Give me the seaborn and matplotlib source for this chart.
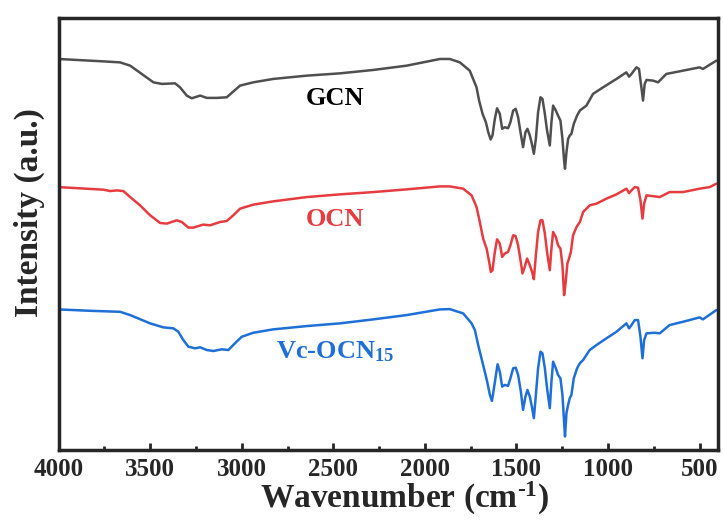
import numpy as np
import pandas as pd
import seaborn as sns
import matplotlib
matplotlib.use("Agg")
import matplotlib.pyplot as plt
from matplotlib.ticker import MultipleLocator

# wavenumber (cm-1) and intensity (a.u.)
gcn_wn = [4000, 3755, 3664, 3609, 3482, 3436, 3364, 3337, 3300, 3273, 3227, 3191, 3136, 3082,
          3009, 2937, 2828, 2645, 2464, 2282, 2100, 1918, 1864, 1809, 1755, 1718, 1704, 1685,
          1667, 1654, 1641, 1631, 1618, 1606, 1591, 1578, 1564, 1546, 1533, 1518, 1504, 1491,
          1478, 1464, 1451, 1440, 1427, 1416, 1405, 1394, 1382, 1369, 1358, 1345, 1333, 1318,
          1309, 1300, 1285, 1273, 1260, 1249, 1240, 1235, 1227, 1218, 1209, 1200, 1187, 1169,
          1154, 1118, 1082, 1027, 954, 900, 885, 872, 845, 831, 818, 809, 800, 790, 754, 727,
          682, 591, 500, 482, 409]
gcn_int = [391.7, 389.3, 388.3, 385, 368.3, 366.7, 367.3, 363.3, 355, 352.3, 355, 352.7, 352.7, 353.3,
           365, 368.3, 371.7, 375, 377.3, 380.7, 385, 391.7, 391.7, 388.3, 380, 363.3, 350, 336.7,
           328.3, 318.3, 311, 315, 331.7, 342.3, 336.7, 321.7, 323.3, 322.3, 328.3, 340, 341.7, 333.3,
           318.3, 303.3, 318.3, 321.7, 315, 306.7, 296.7, 311.7, 338.3, 353.3, 351.7, 336.7, 320, 305,
           328.3, 345, 340, 335, 330, 311.7, 290, 281.7, 298.3, 311.7, 315, 316.7, 326.7, 335,
           340, 345, 356.7, 363.3, 371.7, 378.3, 374, 376.7, 383.3, 381.7, 363.3, 350, 366.7, 370.7, 370, 368.3,
           376.7, 380, 383.3, 381.7, 390]

ocn_wn = [4000, 3755, 3718, 3682, 3646, 3609, 3555, 3500, 3445, 3409, 3355, 3327, 3291, 3264,
          3210, 3173, 3118, 3082, 3046, 3009, 2937, 2828, 2645, 2464, 2282, 2100, 1918, 1864,
          1791, 1745, 1718, 1700, 1682, 1663, 1649, 1640, 1631, 1618, 1606, 1591, 1578, 1564,
          1546, 1533, 1518, 1505, 1491, 1478, 1467, 1455, 1442, 1427, 1415, 1405, 1394, 1382,
          1369, 1358, 1345, 1333, 1318, 1309, 1300, 1285, 1273, 1260, 1249, 1240, 1231, 1222,
          1213, 1203, 1191, 1172, 1154, 1136, 1100, 1063, 1009, 954, 900, 885, 872, 854, 836,
          823, 812, 803, 790, 745, 718, 664, 591, 500, 445, 409]
ocn_int = [263.3, 260.7, 259.3, 260, 259.3, 253.3, 245, 235, 227.3, 226.7, 230, 228.3, 222.7, 222.7,
           225.7, 225, 228.3, 229.3, 235, 241.7, 245.7, 249, 253.3, 256, 258.3, 261, 264, 264,
           261.7, 255, 243.3, 228.3, 211.7, 201.7, 188.3, 178.3, 180, 198.3, 211, 206.7, 193.3, 196.7,
           198.3, 205, 215, 214.3, 205, 190, 176.7, 183.3, 191.7, 185, 178.3, 171, 195, 218.3,
           230, 230, 216.7, 198.3, 180, 201.7, 218.3, 213.3, 205, 201.7, 185, 155, 168.3, 186.7,
           191.7, 198.3, 215, 223.3, 228.3, 238.3, 245, 246.7, 251.7, 256, 261.7, 257.3, 260, 263.3, 262.7,
           250, 231.7, 246.7, 255, 254, 253.3, 258.3, 258.3, 261.7, 263.3, 266.7]

vc_wn = [4000, 3828, 3664, 3609, 3500, 3428, 3373, 3346, 3319, 3291, 3255, 3227, 3191, 3155,
         3109, 3073, 3037, 3000, 2937, 2828, 2645, 2464, 2282, 2100, 1918, 1864, 1791, 1745,
         1727, 1709, 1691, 1673, 1660, 1645, 1634, 1627, 1612, 1603, 1591, 1578, 1564, 1546,
         1533, 1518, 1504, 1491, 1476, 1464, 1451, 1440, 1427, 1416, 1405, 1394, 1382, 1369,
         1358, 1345, 1333, 1318, 1309, 1300, 1285, 1273, 1260, 1249, 1240, 1235, 1227, 1218,
         1209, 1200, 1187, 1169, 1154, 1136, 1100, 1063, 1009, 954, 900, 885, 872, 854, 836,
         823, 812, 803, 790, 745, 718, 664, 591, 500, 482, 409]
vc_int = [140.7, 139.3, 138.3, 135, 126.7, 122.7, 121.7, 118.3, 110, 103.3, 101.7, 102.7, 100, 99,
          100.7, 100, 106.7, 113.3, 117.3, 120.7, 124, 126.7, 130.7, 135, 140.7, 141, 136.7, 126.7,
          120, 105, 91.7, 78.3, 68.3, 55, 49, 56.7, 75, 85.7, 78.3, 63.3, 65, 64,
          71.7, 81.7, 82.3, 75, 58.3, 40, 53.3, 60, 53.3, 43.3, 31.7, 55, 81.7, 98.3,
          96.7, 81.7, 61.7, 41.7, 68.3, 88.3, 81.7, 75, 71.7, 55, 28.3, 13.3, 36.7, 45,
          51.7, 55, 71.7, 81.7, 86.7, 90, 100, 105, 111.7, 118.3, 126.7, 121.7, 125, 130, 130,
          113.3, 91.7, 110, 116.7, 117.3, 116.7, 125, 128.3, 132.7, 130.7, 140]

names = ["GCN", "OCN", "Vc-OCN$_{15}$"]
colors = ["#4f4f4f", "#e63c40", "#1f6fd8"]

sns.set_style("ticks")
plt.rcParams["font.family"] = ["Liberation Serif", "DejaVu Serif"]
plt.rcParams["font.weight"] = "bold"
plt.rcParams["mathtext.fontset"] = "custom"
plt.rcParams["mathtext.rm"] = "Liberation Serif:bold"
plt.rcParams["mathtext.it"] = "Liberation Serif:bold"
plt.rcParams["mathtext.bf"] = "Liberation Serif:bold"
plt.rcParams["mathtext.default"] = "rm"

fig = plt.figure(figsize=(7.23, 5.23), dpi=100)
ax = fig.add_axes([0.081, 0.14, 0.912, 0.826])

for wn, inten, c in zip([gcn_wn, ocn_wn, vc_wn], [gcn_int, ocn_int, vc_int], colors):
    df = pd.DataFrame({"wn": wn, "I": inten})
    sns.lineplot(data=df, x="wn", y="I", ax=ax, color=c, lw=1.8, sort=False)

ax.set_xlim(4000, 400)
ax.set_ylim(0, 433)
ax.xaxis.set_major_locator(MultipleLocator(500))
ax.xaxis.set_minor_locator(MultipleLocator(250))
ax.set_yticks([])
ax.tick_params(axis="x", which="major", direction="in", length=5, width=2,
               labelsize=18, pad=6, top=False)
ax.tick_params(axis="x", which="minor", direction="in", length=3, width=2, top=False)
for lab in ax.get_xticklabels():
    lab.set_fontweight("bold")
for sp in ax.spines.values():
    sp.set_linewidth(2.5)
    sp.set_visible(True)

ax.set_xlabel(r"Wavenumber (cm$^{\text{-1}}$)", fontsize=24, fontweight="bold")
ax.set_ylabel("Intensity (a.u.)", fontsize=24, fontweight="bold")
ax.xaxis.set_label_coords(0.525, -0.07, transform=ax.transAxes)
ax.yaxis.set_label_coords(-0.02, 0.55, transform=ax.transAxes)

ax.text(2491, 352, "GCN", color="black", fontsize=19, fontweight="bold", ha="center", va="center")
ax.text(2491, 231, "OCN", color=colors[1], fontsize=19, fontweight="bold", ha="center", va="center")
ax.text(2491, 98, names[2], color=colors[2], fontsize=19, fontweight="bold", ha="center", va="center")

fig.savefig("out.png", dpi=100)
